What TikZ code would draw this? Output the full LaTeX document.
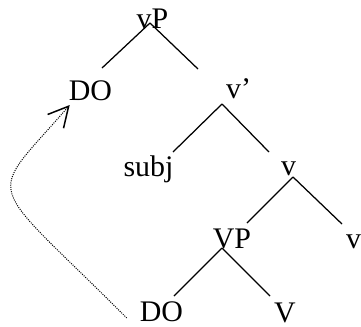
\documentclass[tikz,border=0pt]{standalone}
\usepackage{fontspec}
\setmainfont{Liberation Serif}
\usetikzlibrary{calc,arrows.meta}
\tikzset{
  lbl/.style={inner sep=0pt, anchor=base, font=\fontsize{30}{36}\selectfont},
  branch/.style={draw=black, line width=1.25bp},
  movearrow/.style={line width=1bp, dash pattern=on 1bp off 1.2bp,
                    -{Straight Barb[length=20bp,width=21bp,line width=1.5bp]}},
}
\begin{document}
\begin{tikzpicture}[x=1bp,y=-1bp]
  \useasboundingbox (0,0) rectangle (361,327);

  % labels
  \node[lbl] (vP) at (152.5,28) {vP};
  \node[lbl] (DOa) at (90.5,100) {DO};
  \node[lbl,anchor=base west] (vbar) at (226,98) {v’};
  \node[lbl] (subj) at (148.5,176) {subj};
  \node[lbl] (vmid) at (288.5,175) {v};
  \node[lbl] (VP) at (232,248) {VP};
  \node[lbl,anchor=base west] (vR) at (346,248) {v};
  \node[lbl] (DOb) at (161.5,321) {DO};
  \node[lbl] (V) at (285,322) {V};

  % branches
  \draw[branch] ($(vP.base)+(-2.5,-5)$) -- ($(DOa.base)+(11.5,-32)$);
  \draw[branch] ($(vP.base)+(-2.5,-5)$) -- ($(vbar.base west)+(-28,-29)$);
  \draw[branch] ($(vbar.base west)+(-4,6)$) -- ($(subj.base)+(24.5,-24)$);
  \draw[branch] ($(vbar.base west)+(-4,6)$) -- ($(vmid.base)+(-19.5,-23)$);
  \draw[branch] ($(vmid.base)+(4.5,2)$) -- ($(VP.base)+(15,-25)$);
  \draw[branch] ($(vmid.base)+(4.5,2)$) -- ($(vR.base west)+(-4,-24)$);
  \draw[branch] ($(VP.base)+(-10,0)$) -- ($(DOb.base)+(12.5,-25)$);
  \draw[branch] ($(VP.base)+(-10,0)$) -- ($(V.base)+(-15,-26)$);

  % movement
  \draw[movearrow] ($(DOb.base west)+(-13,-3)$)
    .. controls (-18,173) and (-15,203) .. ($(DOa.base west)+(1,5)$);
\end{tikzpicture}
\end{document}
